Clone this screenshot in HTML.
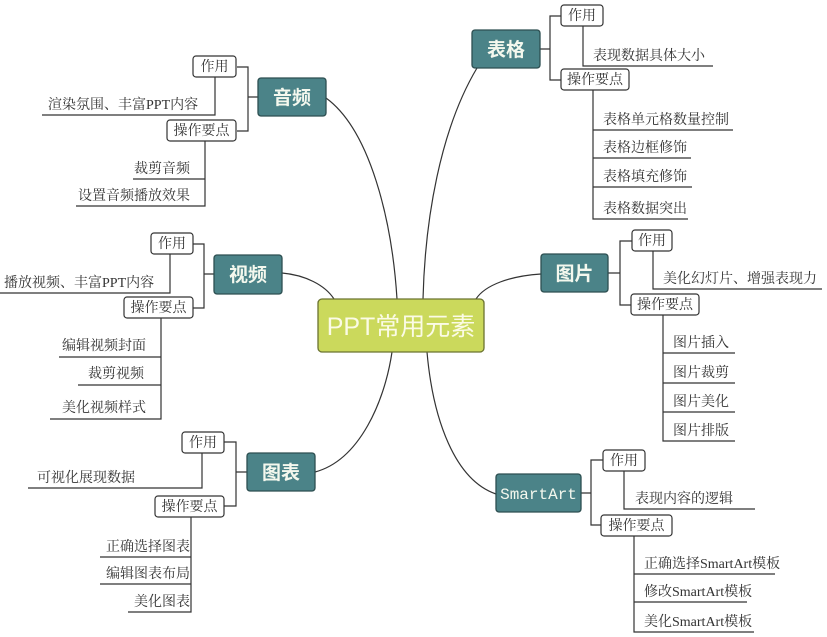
<!DOCTYPE html>
<html><head><meta charset="utf-8"><style>
html,body{margin:0;padding:0;background:#fff;width:827px;height:637px;overflow:hidden}
svg{display:block}
.t{font-family:"Liberation Serif","Noto Serif CJK SC",serif;font-size:14px;fill:#333}
.b{font-family:"Liberation Sans","Noto Sans CJK SC",sans-serif;font-size:19px;fill:#f4f8ee;font-weight:bold}
.sm{fill:#fff;stroke:#333;stroke-width:1.2}
.br{fill:#4b8388;stroke:#2d4f51;stroke-width:1.3}
.l{stroke:#333;stroke-width:1.2;fill:none}
</style></head><body>
<svg width="827" height="637" viewBox="0 0 827 637">
<path class="l" d="M326,98 C370,130 392,220 397,299"/>
<path class="l" d="M477,68 C440,130 425,220 423,299"/>
<path class="l" d="M282,273 C305,275 325,285 334,299"/>
<path class="l" d="M541,274 C510,276 485,285 476,299"/>
<path class="l" d="M315,472 C360,460 385,400 392,352"/>
<path class="l" d="M496,494 C455,480 433,420 427,352"/>
<rect x="318" y="299" width="166" height="53" rx="4" fill="#cbd95c" stroke="#6b7330" stroke-width="1.3"/>
<text x="401" y="335" text-anchor="middle" style="font-family:'Liberation Sans','Noto Sans CJK SC',sans-serif;font-size:25px;fill:#fbfbe6">PPT常用元素</text>

<path class="l" d="M326,97 H248 M237,67 H248 V131 H237"/>
<rect class="br" x="258" y="78" width="68" height="38" rx="3"/><text class="b" x="292" y="104" text-anchor="middle">音频</text>
<rect class="sm" x="193" y="56" width="43" height="21" rx="3"/><text class="t" x="214.5" y="71" text-anchor="middle">作用</text>
<rect class="sm" x="167" y="120" width="69" height="21" rx="3"/><text class="t" x="201.5" y="135" text-anchor="middle">操作要点</text>
<path class="l" d="M215,77 V115 H42"/><text class="t" x="48" y="109">渲染氛围、丰富PPT内容</text>
<path class="l" d="M205,141 V206 H76 M205,179 H133"/>
<text class="t" x="134" y="173">裁剪音频</text><text class="t" x="78" y="200">设置音频播放效果</text>

<path class="l" d="M540,49 H550 M561,16 H550 V80 H561"/>
<rect class="br" x="472" y="30" width="68" height="38" rx="3"/><text class="b" x="506" y="56" text-anchor="middle">表格</text>
<rect class="sm" x="561" y="5" width="42" height="21" rx="3"/><text class="t" x="582" y="20" text-anchor="middle">作用</text>
<rect class="sm" x="561" y="69" width="68" height="21" rx="3"/><text class="t" x="595" y="84" text-anchor="middle">操作要点</text>
<path class="l" d="M583,26 V66 H713"/><text class="t" x="593" y="60">表现数据具体大小</text>
<path class="l" d="M593,90 V219 H688 M593,130 H733 M593,158 H691 M593,187 H692"/>
<text class="t" x="603" y="124">表格单元格数量控制</text><text class="t" x="603" y="152">表格边框修饰</text>
<text class="t" x="603" y="181">表格填充修饰</text><text class="t" x="603" y="213">表格数据突出</text>

<path class="l" d="M214,274 H204 M193,244 H204 V308 H193"/>
<rect class="br" x="214" y="255" width="68" height="39" rx="3"/><text class="b" x="248" y="281" text-anchor="middle">视频</text>
<rect class="sm" x="151" y="233" width="42" height="21" rx="3"/><text class="t" x="172" y="248" text-anchor="middle">作用</text>
<rect class="sm" x="124" y="297" width="69" height="21" rx="3"/><text class="t" x="158.5" y="312" text-anchor="middle">操作要点</text>
<path class="l" d="M170,254 V293 H0"/><text class="t" x="4" y="287">播放视频、丰富PPT内容</text>
<path class="l" d="M161,318 V419 H50 M161,357 H59 M161,385 H78"/>
<text class="t" x="62" y="350">编辑视频封面</text><text class="t" x="88" y="378">裁剪视频</text><text class="t" x="62" y="412">美化视频样式</text>

<path class="l" d="M247,472 H236 M224,442 H236 V506 H224"/>
<rect class="br" x="247" y="453" width="68" height="38" rx="3"/><text class="b" x="281" y="479" text-anchor="middle">图表</text>
<rect class="sm" x="182" y="432" width="42" height="21" rx="3"/><text class="t" x="203" y="447" text-anchor="middle">作用</text>
<rect class="sm" x="155" y="496" width="69" height="21" rx="3"/><text class="t" x="189.5" y="511" text-anchor="middle">操作要点</text>
<path class="l" d="M202,453 V488 H28"/><text class="t" x="37" y="482">可视化展现数据</text>
<path class="l" d="M191,517 V612 H128 M191,557 H100 M191,584 H100"/>
<text class="t" x="106" y="551">正确选择图表</text><text class="t" x="106" y="578">编辑图表布局</text><text class="t" x="134" y="606">美化图表</text>

<path class="l" d="M608,273 H620 M632,241 H620 V305 H631"/>
<rect class="br" x="541" y="254" width="67" height="38" rx="3"/><text class="b" x="574.5" y="280" text-anchor="middle">图片</text>
<rect class="sm" x="632" y="230" width="40" height="21" rx="3"/><text class="t" x="652" y="245" text-anchor="middle">作用</text>
<rect class="sm" x="631" y="294" width="68" height="21" rx="3"/><text class="t" x="665" y="309" text-anchor="middle">操作要点</text>
<path class="l" d="M653,251 V289 H822"/><text class="t" x="663" y="283">美化幻灯片、增强表现力</text>
<path class="l" d="M663,315 V441 H735 M663,353 H735 M663,383 H735 M663,412 H735"/>
<text class="t" x="673" y="347">图片插入</text><text class="t" x="673" y="377">图片裁剪</text>
<text class="t" x="673" y="406">图片美化</text><text class="t" x="673" y="435">图片排版</text>

<path class="l" d="M581,493 H591 M603,460 H591 V525 H601"/>
<rect class="br" x="496" y="474" width="85" height="38" rx="3"/>
<text x="538.5" y="499" text-anchor="middle" style="font-family:'Liberation Mono',monospace;font-size:16px;fill:#f4f8ee">SmartArt</text>
<rect class="sm" x="603" y="450" width="42" height="21" rx="3"/><text class="t" x="624" y="465" text-anchor="middle">作用</text>
<rect class="sm" x="601" y="515" width="71" height="21" rx="3"/><text class="t" x="636.5" y="530" text-anchor="middle">操作要点</text>
<path class="l" d="M624,471 V509 H755"/><text class="t" x="635" y="503">表现内容的逻辑</text>
<path class="l" d="M634,536 V632 H754 M634,574 H775 M634,602 H747"/>
<text class="t" x="644" y="568">正确选择SmartArt模板</text><text class="t" x="644" y="596">修改SmartArt模板</text><text class="t" x="644" y="626">美化SmartArt模板</text>
</svg>
</body></html>
